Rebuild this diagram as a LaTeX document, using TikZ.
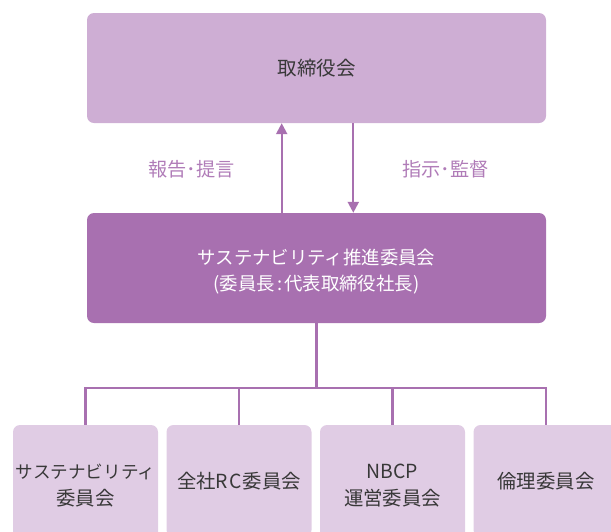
\documentclass[tikz,border=0pt]{standalone}
\usepackage{fontspec}
\setmainfont{Noto Sans CJK JP}
\usetikzlibrary{arrows.meta}
\definecolor{topfill}{HTML}{CEAED4}
\definecolor{midfill}{HTML}{A870B0}
\definecolor{botfill}{HTML}{E0CCE4}
\definecolor{linecol}{HTML}{A870B0}
\definecolor{labcol}{HTML}{B07CB8}
\definecolor{darktext}{HTML}{383838}
\begin{document}
\begin{tikzpicture}[x=1pt,y=-1pt,
  box/.style={rounded corners=7pt, inner sep=0pt, align=center},
  topbox/.style={box, fill=topfill, text=darktext, minimum width=459pt, minimum height=110pt, font=\fontsize{19.5}{26}\selectfont},
  midbox/.style={box, fill=midfill, minimum width=459pt, minimum height=110pt},
  midtext/.style={inner sep=0pt, align=center, text=white, font=\fontsize{18.4}{26}\selectfont},
  botbox/.style={box, fill=botfill, text=darktext, minimum width=145pt, font=\fontsize{19.4}{27}\selectfont},
  conn/.style={draw=linecol, line width=2.2pt},
  arr/.style={conn, -{Triangle[length=11pt,width=11pt]}},
  lab/.style={text=labcol, inner sep=0pt, font=\fontsize{19.2}{22}\selectfont}
]
\useasboundingbox (0,0) rectangle (611,531);
\clip (0,0) rectangle (611,531);
\node[topbox] (top) at (316.5,68) {取締役会};
\node[midbox] (mid) at (316.5,268) {};
\node[midtext] (midt) at (316.5,272) {サステナビリティ推進委員会\\(委員長\kern2pt:\kern2pt代表取締役社長)};
\node[botbox, minimum height=122pt] (b1) at (85.5,486) {{\fontsize{17.6}{27}\selectfont サステナビリティ}\\委員会};
\node[botbox, minimum height=112pt] (b2) at (239,481) {全社R\kern1ptC\kern1pt委員会};
\node[botbox, minimum height=122pt] (b3) at (392.5,486) {NBCP\\運営委員会};
\node[botbox, minimum height=112pt] (b4) at (546,481) {倫理委員会};
\draw[arr] ([xshift=-34.8pt]mid.north) -- ([xshift=-34.8pt]top.south);
\draw[arr] ([xshift=36.8pt]top.south) -- ([xshift=36.8pt]mid.north);
\node[lab] (l1) at (191.5,169) {報告･提言};
\node[lab] (l2) at (445.5,169) {指示･監督};
\draw[conn] (mid.south) -- ++(0,65) coordinate (bus);
\draw[conn] (b1.north) -- (b1.north |- bus) -- (b4.north |- bus) -- (b4.north);
\draw[conn] (b2.north) -- (b2.north |- bus);
\draw[conn] (b3.north) -- (b3.north |- bus);
\end{tikzpicture}
\end{document}
